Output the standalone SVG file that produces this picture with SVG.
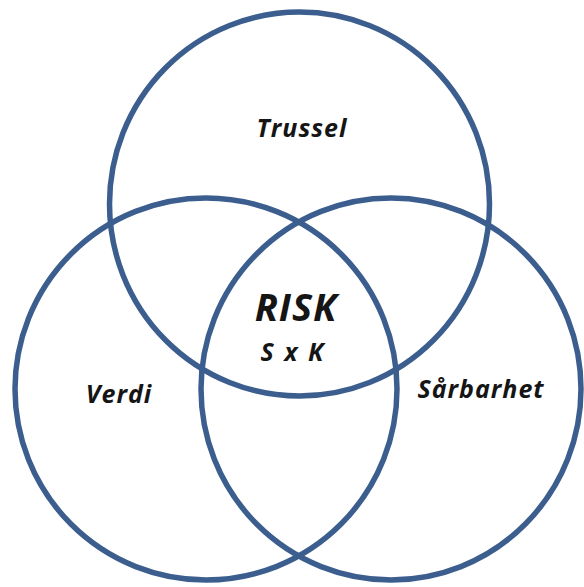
<svg xmlns="http://www.w3.org/2000/svg" width="584" height="587" viewBox="0 0 584 587">
<style>
.ring{fill:none;stroke:#3b5e8e;stroke-width:5.5}
.lbl{font-family:"Open Sans","Liberation Sans",sans-serif;font-weight:bold;font-style:italic;fill:#151515;text-anchor:middle;letter-spacing:1px}
</style>
<rect width="584" height="587" fill="#ffffff"/>
<g id="trussel">
<ellipse class="ring" cx="299.5" cy="204" rx="190" ry="192"/>
<text class="lbl" x="302" y="137" font-size="25">Trussel</text>
</g>
<g id="verdi">
<ellipse class="ring" cx="206" cy="389" rx="191" ry="191"/>
<text class="lbl" x="119" y="403" font-size="25">Verdi</text>
</g>
<g id="sarbarhet">
<ellipse class="ring" cx="391" cy="389" rx="190" ry="191"/>
<text class="lbl" x="481" y="398" font-size="25">Sårbarhet</text>
</g>
<g id="risk">
<text class="lbl" x="296" y="321" font-size="38">RISK</text>
<text class="lbl" x="293" y="361" font-size="25" style="letter-spacing:2px">S x K</text>
</g>
<g id="connectors"/>
</svg>
